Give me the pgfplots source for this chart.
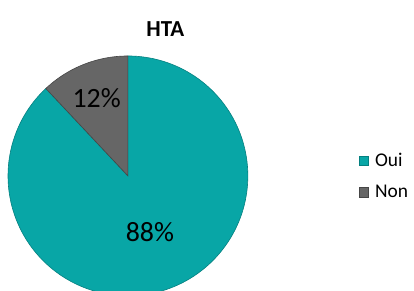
\documentclass[border=0pt]{standalone}
\usepackage{fontspec}
\setmainfont{Carlito}
\usepackage{pgfplots}
\usepackage{pgfplotstable}
\pgfplotsset{compat=1.18}
\definecolor{tealA}{RGB}{8,166,166}
\definecolor{tealE}{RGB}{4,128,128}
\definecolor{grayA}{RGB}{102,102,102}
\definecolor{grayE}{RGB}{70,70,70}
\pgfplotstableread{
label value
Oui 88
Non 12
}\datatable
\pgfplotstablegetelem{0}{value}\of\datatable \let\vOui\pgfplotsretval
\pgfplotstablegetelem{1}{value}\of\datatable \let\vNon\pgfplotsretval
\pgfmathsetmacro\aMid{90-3.6*\vOui}
\pgfmathsetmacro\aEnd{\aMid-3.6*\vNon}
\begin{document}
\begin{tikzpicture}
\begin{axis}[
  scale only axis, width=414bp, height=291bp,
  xmin=0, xmax=414, ymin=0, ymax=291,
  axis line style={draw=none}, ticks=none, clip=true,
  legend style={at={(axis description cs:0.867,0.3935)}, anchor=west, draw=none, fill=none,
    font=\fontsize{19.5}{21}\selectfont, row sep=15bp, inner sep=0pt,
    nodes={inner xsep=6bp, inner ysep=1bp}},
  legend cell align=left,
  legend image code/.code={\fill[#1] (0bp,-4.75bp) rectangle (9.5bp,4.75bp);},
]
\addplot[fill=tealA, draw=tealE, line width=0.6pt, domain=90:\aMid, samples=150, variable=\t]
  ({128+120*cos(\t)},{115+120*sin(\t)}) -- (axis cs:128,115) -- cycle;
\addlegendentry{Oui}
\addplot[fill=grayA, draw=grayE, line width=0.6pt, domain=\aMid:\aEnd, samples=30, variable=\t]
  ({128+120*cos(\t)},{115+120*sin(\t)}) -- (axis cs:128,115) -- cycle;
\addlegendentry{Non}
\node[font=\fontsize{28}{32}\selectfont] at (axis cs:150,59) {88\%};
\node[font=\fontsize{28}{32}\selectfont] at (axis cs:96.7,193) {12\%};
\node[font=\bfseries\fontsize{23}{27}\selectfont] at (axis cs:165.5,262) {HTA};
\end{axis}
\end{tikzpicture}
\end{document}
